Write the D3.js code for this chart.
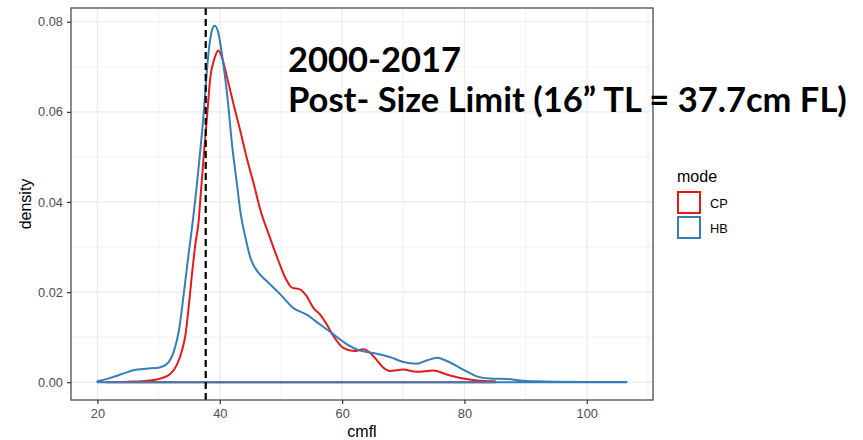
<!DOCTYPE html>
<html>
<head>
<meta charset="utf-8">
<script src="https://cdnjs.cloudflare.com/ajax/libs/d3/7.8.5/d3.min.js"></script>
<style>
  html, body { margin: 0; padding: 0; background: #fff; }
  svg { display: block; }
</style>
</head>
<body>
<div id="chart"></div>
<script>
// density of fork length (cm) by mode
const cmflCP = [21.5, 25, 28.6, 30.3, 31.9, 33.0, 33.8, 34.4, 34.9, 35.45, 36.0, 36.55, 36.8, 37.35, 37.9, 38.45,
  39.1, 39.8, 40.35, 41.2, 42.25, 43.35, 44.4, 45.5, 46.6, 48.2, 49.6, 50.7, 51.8, 53.1, 54.2, 55.3, 56.4,
  57.5, 58.6, 60.2, 61.9, 63.5, 64.6, 65.6, 66.75, 67.8, 70.0, 72.2, 74.9, 77.1, 79.8, 82.0, 85.0];
const densityCP = [0.0, 0.0001, 0.0004, 0.0008, 0.0018, 0.0039, 0.0069, 0.0106, 0.0165, 0.0239, 0.0306, 0.0358,
  0.0402, 0.0498, 0.0587, 0.0676, 0.0717, 0.0736, 0.0721, 0.0676, 0.0617, 0.0558, 0.0498, 0.0443, 0.0384,
  0.0321, 0.0269, 0.0232, 0.021, 0.0206, 0.0191, 0.0165, 0.015, 0.0128, 0.0102, 0.0076, 0.0069, 0.0073,
  0.0065, 0.005, 0.0032, 0.0025, 0.0028, 0.0023, 0.0026, 0.0017, 0.0008, 0.0004, 0.0002];

const cmflHB = [20, 22, 24, 26, 28, 30, 31.4, 32.5, 33.3, 34.1, 34.9, 35.7, 36.8, 37.4, 37.8, 38.2, 38.7, 39.15,
  39.8, 40.35, 41.2, 42.0, 42.8, 43.4, 44.2, 45.0, 46.1, 47.7, 49.9, 52.0, 54.2, 56.4, 58.4, 60.8, 62.9, 65.1,
  67.8, 70.0, 72.2, 73.8, 75.5, 77.1, 79.8, 82.0, 84.2, 86.9, 89.1, 91.8, 95, 100, 106.5];
const densityHB = [0.0002, 0.0009, 0.0018, 0.0027, 0.003, 0.0032, 0.0041, 0.0069, 0.0113, 0.0195, 0.0284, 0.037,
  0.0513, 0.0602, 0.0676, 0.0736, 0.078, 0.0791, 0.0773, 0.0728, 0.0639, 0.0528, 0.044, 0.0375, 0.0321,
  0.0276, 0.0247, 0.0224, 0.0195, 0.0165, 0.015, 0.0128, 0.0108, 0.0084, 0.007, 0.0065, 0.0056, 0.0045,
  0.0041, 0.0048, 0.0054, 0.0047, 0.0028, 0.0013, 0.0008, 0.0007, 0.0004, 0.0002, 0.0001, 0.00005, 0.00002];

const modes = ["CP", "HB"];
const xTicks = [20, 40, 60, 80, 100];
const yTicks = [0, 0.02, 0.04, 0.06, 0.08];
const sizeLimit = 37.7;
const titleLines = ["2000-2017", "Post- Size Limit (16\u201D TL = 37.7cm FL)"];

const width = 863, height = 440;
const margin = { top: 8, right: 210, bottom: 40, left: 71 };
const pw = width - margin.left - margin.right;   // 582
const ph = height - margin.top - margin.bottom;  // 392

const color = d3.scaleOrdinal().domain(modes).range(["#E41A1C", "#377EB8"]);

// ggplot style 5% expansion
const xMin = 20, xMax = 106.5, yMax = 0.0791;
const xPad = (xMax - xMin) * 0.05, yPad = yMax * 0.05;
const x = d3.scaleLinear().domain([xMin - xPad, xMax + xPad]).range([0, pw]);
const y = d3.scaleLinear().domain([-yPad, yMax + yPad]).range([ph, 0]);

const svg = d3.select("#chart").append("svg")
  .attr("width", width)
  .attr("height", height)
  .style("font-family", "'Liberation Sans', Arial, sans-serif");

const g = svg.append("g").attr("transform", `translate(${margin.left},${margin.top})`);

// grid (minor then major)
const xMinor = [30, 50, 70, 90, 110];
const yMinor = [0.01, 0.03, 0.05, 0.07];
g.append("g").selectAll("line").data(xMinor).enter().append("line")
  .attr("x1", d => x(d)).attr("x2", d => x(d)).attr("y1", 0).attr("y2", ph)
  .attr("stroke", "#EBEBEB").attr("stroke-width", 0.6);
g.append("g").selectAll("line").data(yMinor).enter().append("line")
  .attr("y1", d => y(d)).attr("y2", d => y(d)).attr("x1", 0).attr("x2", pw)
  .attr("stroke", "#EBEBEB").attr("stroke-width", 0.6);
g.append("g").selectAll("line").data(xTicks).enter().append("line")
  .attr("x1", d => x(d)).attr("x2", d => x(d)).attr("y1", 0).attr("y2", ph)
  .attr("stroke", "#EBEBEB").attr("stroke-width", 1.2);
g.append("g").selectAll("line").data(yTicks).enter().append("line")
  .attr("y1", d => y(d)).attr("y2", d => y(d)).attr("x1", 0).attr("x2", pw)
  .attr("stroke", "#EBEBEB").attr("stroke-width", 1.2);

// density outlines
const series = [
  { mode: "CP", pts: cmflCP.map((v, i) => [v, densityCP[i]]) },
  { mode: "HB", pts: cmflHB.map((v, i) => [v, densityHB[i]]) }
];
const area = d3.area()
  .x(d => x(d[0]))
  .y0(y(0))
  .y1(d => y(d[1]))
  .curve(d3.curveMonotoneX);

g.append("g").selectAll("path").data(series).enter().append("path")
  .attr("d", d => area(d.pts))
  .attr("fill", "none")
  .attr("stroke", d => color(d.mode))
  .attr("stroke-width", 2)
  .attr("stroke-linejoin", "round");

// size limit line
g.append("line")
  .attr("x1", x(sizeLimit)).attr("x2", x(sizeLimit))
  .attr("y1", 0).attr("y2", ph)
  .attr("stroke", "#000").attr("stroke-width", 2.2)
  .attr("stroke-dasharray", "7,4");

// panel border
g.append("rect")
  .attr("width", pw).attr("height", ph)
  .attr("fill", "none").attr("stroke", "#4d4d4d").attr("stroke-width", 1.3);

// axes
const xAxis = g.append("g").attr("transform", `translate(0,${ph})`)
  .call(d3.axisBottom(x).tickValues(xTicks).tickSize(4).tickPadding(5));
const yAxis = g.append("g")
  .call(d3.axisLeft(y).tickValues(yTicks).tickSize(4).tickPadding(4).tickFormat(d3.format(".2f")));
[xAxis, yAxis].forEach(a => {
  a.select(".domain").remove();
  a.selectAll(".tick line").attr("stroke", "#333").attr("stroke-width", 1.2);
  a.selectAll("text").attr("fill", "#4D4D4D").style("font-size", "12.8px")
    .style("font-family", "'Liberation Sans', Arial, sans-serif");
});

svg.append("text")
  .attr("x", margin.left + pw / 2).attr("y", 437)
  .attr("text-anchor", "middle").style("font-size", "16px").text("cmfl");
svg.append("text")
  .attr("transform", `translate(31,${margin.top + ph / 2}) rotate(-90)`)
  .attr("text-anchor", "middle").style("font-size", "16px").text("density");

// legend
const legend = svg.append("g").attr("transform", "translate(677,0)");
legend.append("text").attr("x", 0).attr("y", 182).style("font-size", "16px").text("mode");
const item = legend.selectAll("g.item").data(modes).enter().append("g")
  .attr("class", "item")
  .attr("transform", (d, i) => `translate(0,${192 + i * 25})`);
item.append("rect")
  .attr("x", 1).attr("y", 0).attr("width", 22).attr("height", 21)
  .attr("fill", "none").attr("stroke", d => color(d)).attr("stroke-width", 2);
item.append("text")
  .attr("x", 33).attr("y", 11).attr("dy", "0.36em")
  .style("font-size", "12.8px").text(d => d);

// overlaid annotation
const title = svg.append("g")
  .style("font-family", "Lato, 'Open Sans', sans-serif")
  .style("font-weight", 700);
const t2 = title.append("text").attr("x", 288).attr("y", 112)
  .style("font-size", "36px").text(titleLines[1]);
const w2 = t2.node().getComputedTextLength();
const fs = 36 * 559 / w2;
t2.style("font-size", fs + "px");
title.append("text").attr("x", 288).attr("y", 72)
  .style("font-size", fs + "px").text(titleLines[0]);
</script>
</body>
</html>
